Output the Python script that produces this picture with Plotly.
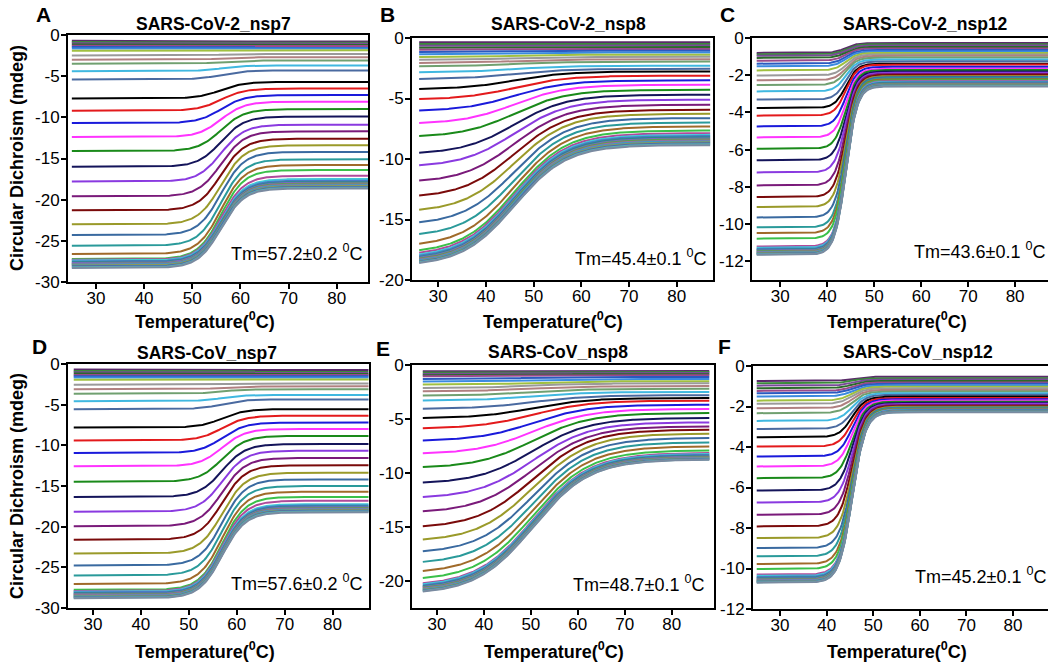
import numpy as np
import plotly.graph_objects as go

W, H = 1048, 664
FONT = "Liberation Sans, Arial, sans-serif"

# ---------------- colours (top -> bottom of each panel) ----------------
upper_colors = ['#5a2a6a', '#3a8a3a', '#7a4a9a', '#2a6a2a', '#9a4a8a', '#2a5ac0', '#3a8ae0',
                '#a0c040', '#9a9a9a', '#b08080', '#70a070', '#40b8e0', '#4a6aa0']
named_colors = ['#000000', '#e31a1c', '#1a1adb', '#ff33ff', '#1a8a1a', '#14145a', '#8a3ae0',
                '#7a1a7a', '#7a0a0a', '#9a9a2a', '#3a6aa0', '#2a9a9a', '#a06a2a']
cluster_colors = ['#3ac04a', '#b04a9a', '#40c8d8', '#4a7ac8', '#2a8a8a', '#7a6ac0', '#5aa04a',
                  '#a06aa0', '#3a9ac8', '#8a9a5a', '#4a6ab0', '#5ab0b0', '#7a8aa0']
colors = upper_colors + named_colors + cluster_colors

# ---------------- panel titles / Tm labels ----------------
titles = ["SARS-CoV-2_nsp7", "SARS-CoV-2_nsp8", "SARS-CoV-2_nsp12",
          "SARS-CoV_nsp7", "SARS-CoV_nsp8", "SARS-CoV_nsp12"]
letters = ["A", "B", "C", "D", "E", "F"]
tm_labels = ["Tm=57.2±0.2 <sup>0</sup>C", "Tm=45.4±0.1 <sup>0</sup>C", "Tm=43.6±0.1 <sup>0</sup>C",
             "Tm=57.6±0.2 <sup>0</sup>C", "Tm=48.7±0.1 <sup>0</sup>C", "Tm=45.2±0.1 <sup>0</sup>C"]
x_title = "Temperature(<sup>0</sup>C)"
y_title = "Circular Dichroism (mdeg)"

# transition midpoint and width (deg C)
mid_temps = [56.0, 46.0, 44.0, 57.0, 50.5, 45.5]
widths = [2.4, 5.5, 1.2, 2.4, 6.0, 1.4]
# temperature span of the curves
t_first = [25.0, 26.0, 25.0, 26.0, 27.0, 25.0]
t_last = [86.5, 87.0, 87.5, 87.5, 88.2, 87.5]

# ---------------- plateau values, low / high temperature side (mdeg) ----------------
A_start = [-0.7, -0.85, -1.0, -1.15, -1.3, -1.45, -1.65, -1.9, -2.5, -3.0, -3.5, -4.4, -5.4,
           -7.7, -9.2, -10.7, -12.4, -14.1, -16.0, -17.8, -19.6, -21.3, -23.0, -24.3, -25.6, -26.6,
           -27.2, -27.3, -27.4, -27.5, -27.6, -27.7, -27.8, -27.85, -27.9, -28.0, -28.1, -28.2, -28.3]
A_end = [-0.8, -0.95, -1.05, -1.2, -1.35, -1.5, -1.65, -1.85, -2.3, -2.7, -3.1, -3.7, -4.3,
         -5.7, -6.5, -7.3, -8.1, -9.0, -9.9, -10.9, -11.7, -12.6, -13.4, -14.2, -15.1, -15.8,
         -16.4, -17.1, -17.5, -17.7, -17.85, -17.95, -18.05, -18.15, -18.25, -18.35, -18.45, -18.55, -18.65]

B_start = [-0.36, -0.5, -0.65, -0.8, -0.97, -1.16, -1.35, -1.57, -1.8, -2.07, -2.35, -2.84, -3.4,
           -4.25, -5.1, -6.05, -7.1, -8.2, -9.6, -10.65, -11.95, -13.2, -14.4, -15.45, -16.45, -17.25,
           -17.8, -18.0, -18.15, -18.25, -18.35, -18.42, -18.5, -18.57, -18.63, -18.7, -18.75, -18.8, -18.85]
B_end = [-0.36, -0.5, -0.62, -0.75, -0.9, -1.05, -1.2, -1.38, -1.55, -1.75, -1.95, -2.3, -2.55,
         -2.76, -3.12, -3.5, -3.86, -4.28, -4.69, -5.1, -5.52, -5.93, -6.26, -6.62, -6.98, -7.31,
         -7.64, -7.86, -8.0, -8.1, -8.2, -8.3, -8.38, -8.46, -8.54, -8.62, -8.7, -8.77, -8.85]

C_start = [-0.8, -0.88, -0.96, -1.07, -1.22, -1.38, -1.52, -1.74, -2.02, -2.27, -2.53, -2.87, -3.31,
           -3.76, -4.17, -4.75, -5.34, -5.95, -6.57, -7.22, -7.92, -8.54, -9.08, -9.64, -10.17, -10.48,
           -10.78, -11.2, -11.27, -11.33, -11.38, -11.42, -11.46, -11.5, -11.53, -11.56, -11.59, -11.62, -11.65]
C_end = [-0.27, -0.33, -0.4, -0.48, -0.56, -0.64, -0.72, -0.8, -0.88, -0.96, -1.05, -1.15, -1.25,
         -1.38, -1.43, -1.55, -1.65, -1.72, -1.8, -1.87, -1.93, -1.98, -2.05, -2.1, -2.16, -2.22,
         -2.27, -2.31, -2.35, -2.38, -2.41, -2.44, -2.47, -2.5, -2.52, -2.54, -2.56, -2.58, -2.6]

D_start = [-0.69, -0.85, -1.01, -1.17, -1.34, -1.5, -1.66, -1.95, -2.55, -3.1, -3.65, -4.58, -5.55,
           -7.82, -9.4, -10.94, -12.57, -14.47, -16.34, -18.16, -19.94, -21.6, -23.3, -24.77, -25.99, -27.04,
           -27.77, -27.9, -28.0, -28.1, -28.2, -28.28, -28.36, -28.44, -28.52, -28.6, -28.67, -28.73, -28.8]
D_end = [-0.75, -0.9, -1.05, -1.2, -1.35, -1.5, -1.65, -1.9, -2.4, -2.75, -3.1, -3.8, -4.35,
         -5.55, -6.36, -7.2, -7.98, -8.84, -9.85, -10.66, -11.55, -12.45, -13.38, -14.19, -15.0, -15.7,
         -16.34, -16.82, -17.23, -17.4, -17.52, -17.62, -17.72, -17.8, -17.88, -17.96, -18.04, -18.12, -18.24]

E_start = [-0.59, -0.7, -0.83, -0.94, -1.05, -1.29, -1.54, -1.82, -2.13, -2.43, -2.83, -3.3, -4.07,
           -4.95, -5.9, -7.05, -8.25, -9.55, -11.0, -12.35, -13.7, -15.1, -16.35, -17.45, -18.45, -19.3,
           -19.95, -20.45, -20.55, -20.65, -20.73, -20.8, -20.87, -20.94, -21.0, -21.06, -21.12, -21.17, -21.22]
E_end = [-0.55, -0.65, -0.75, -0.85, -0.95, -1.1, -1.3, -1.5, -1.7, -1.95, -2.2, -2.5, -2.8,
         -3.05, -3.3, -3.67, -4.07, -4.44, -4.9, -5.3, -5.67, -5.98, -6.35, -6.75, -7.15, -7.52,
         -7.89, -8.13, -8.22, -8.3, -8.37, -8.44, -8.5, -8.55, -8.6, -8.64, -8.68, -8.72, -8.75]

F_start = [-0.74, -0.85, -0.97, -1.1, -1.23, -1.35, -1.51, -1.71, -1.87, -2.09, -2.33, -2.71, -3.11,
           -3.52, -3.98, -4.47, -4.96, -5.54, -6.15, -6.74, -7.35, -7.92, -8.5, -8.99, -9.4, -9.78,
           -10.03, -10.3, -10.36, -10.42, -10.47, -10.51, -10.55, -10.58, -10.61, -10.64, -10.66, -10.68, -10.7]
F_end = [-0.53, -0.6, -0.67, -0.74, -0.81, -0.88, -0.95, -1.02, -1.1, -1.18, -1.26, -1.34, -1.42,
         -1.51, -1.58, -1.64, -1.7, -1.76, -1.82, -1.87, -1.92, -1.97, -2.01, -2.05, -2.08, -2.11,
         -2.13, -2.15, -2.17, -2.19, -2.2, -2.21, -2.22, -2.23, -2.24, -2.25, -2.26, -2.27, -2.28]

starts = [A_start, B_start, C_start, D_start, E_start, F_start]
ends = [A_end, B_end, C_end, D_end, E_end, F_end]

# ---------------- axes ----------------
x_ranges = [[24.2, 86.5], [24.5, 87.6], [24.0, 87.0], [24.8, 87.6], [24.7, 89.0], [24.2, 87.5]]
y_ranges = [[-30, 0], [-20, 0], [-13, 0], [-30, 0], [-22.5, 0], [-12, 0]]
y_ticks = [[0, -5, -10, -15, -20, -25, -30], [0, -5, -10, -15, -20],
           [0, -2, -4, -6, -8, -10, -12], [0, -5, -10, -15, -20, -25, -30],
           [0, -5, -10, -15, -20], [0, -2, -4, -6, -8, -10, -12]]
x_ticks = [30, 40, 50, 60, 70, 80]

# layout boxes in pixels: left, right, top, bottom
boxes = [(68, 368, 35, 282), (412, 713, 38, 280), (752, 1049, 38, 280),
         (68, 369, 364, 608), (412, 714, 365, 608), (753, 1049, 366, 609)]
title_cx = [213, 568, 926, 207, 558, 918]
title_cy = [24, 24, 24, 353, 352, 352]
letter_x = [34, 378, 718, 30, 374, 716]
letter_cy = [15, 15, 15, 347, 348, 347]
xtitle_cx = [205, 553, 897, 205, 554, 897]
xtitle_cy = [320, 320, 320, 650, 650, 650]
tm_right = [364, 708, 1047, 364, 706, 1048]
tm_cy = [252, 258, 250, 582, 583, 575]
ytitle_cy = [158, 486]

fig = go.Figure()
annotations = []

for p in range(6):
    sfx = "" if p == 0 else str(p + 1)
    xa, ya = "x" + sfx, "y" + sfx
    temps = np.arange(t_first[p], t_last[p] + 1e-6, 0.25)
    for i, (s, e) in enumerate(zip(starts[p], ends[p])):
        vals = e + (s - e) / (1.0 + np.exp((temps - mid_temps[p]) / widths[p]))
        fig.add_trace(go.Scatter(x=temps, y=vals, mode="lines",
                                 line=dict(color=colors[i], width=2),
                                 xaxis=xa, yaxis=ya, showlegend=False, hoverinfo="skip"))
    l, r, t, b = boxes[p]
    axis_common = dict(showgrid=False, zeroline=False, showline=True, linecolor="black",
                       linewidth=2, mirror=True, ticks="outside", ticklen=5, tickwidth=2,
                       tickcolor="black", automargin=False,
                       tickfont=dict(family=FONT, size=17, color="black"))
    fig.layout["xaxis" + sfx] = dict(
        domain=[l / W, min(r / W, 1.0)], range=x_ranges[p], anchor=ya,
        tickvals=x_ticks, ticktext=[str(v) for v in x_ticks], ticklabelstandoff=-5,
        **axis_common)
    fig.layout["yaxis" + sfx] = dict(
        domain=[1 - b / H, 1 - t / H], range=y_ranges[p], anchor=xa,
        tickvals=y_ticks[p], ticktext=[str(v) for v in y_ticks[p]], ticklabelstandoff=-2,
        **axis_common)

    annotations.append(dict(text=f"<b>{titles[p]}</b>", x=title_cx[p] / W, y=1 - title_cy[p] / H,
                            xref="paper", yref="paper", showarrow=False, xanchor="center",
                            yanchor="middle", font=dict(family=FONT, size=17.5, color="black")))
    annotations.append(dict(text=f"<b>{letters[p]}</b>", x=letter_x[p] / W, y=1 - letter_cy[p] / H,
                            xref="paper", yref="paper", showarrow=False, xanchor="left",
                            yanchor="middle", font=dict(family=FONT, size=21, color="black")))
    annotations.append(dict(text=f"<b>{x_title}</b>", x=xtitle_cx[p] / W, y=1 - xtitle_cy[p] / H,
                            xref="paper", yref="paper", showarrow=False,
                            xanchor="center", yanchor="middle",
                            font=dict(family=FONT, size=18, color="black")))
    annotations.append(dict(text=tm_labels[p], x=tm_right[p] / W, y=1 - tm_cy[p] / H,
                            xref="paper", yref="paper", showarrow=False, xanchor="right",
                            yanchor="middle", font=dict(family=FONT, size=18, color="black")))

for cy in ytitle_cy:
    annotations.append(dict(text=f"<b>{y_title}</b>", x=17 / W, y=1 - cy / H,
                            xref="paper", yref="paper", showarrow=False, textangle=-90,
                            xanchor="center", yanchor="middle",
                            font=dict(family=FONT, size=18, color="black")))

fig.update_layout(template="none", width=W, height=H, margin=dict(l=0, r=0, t=0, b=0, pad=0),
                  paper_bgcolor="white", plot_bgcolor="white",
                  annotations=annotations, showlegend=False)

fig.write_html("out.html", config={"displayModeBar": False},
               post_script="document.body.style.margin='0';document.body.style.overflow='hidden';")
